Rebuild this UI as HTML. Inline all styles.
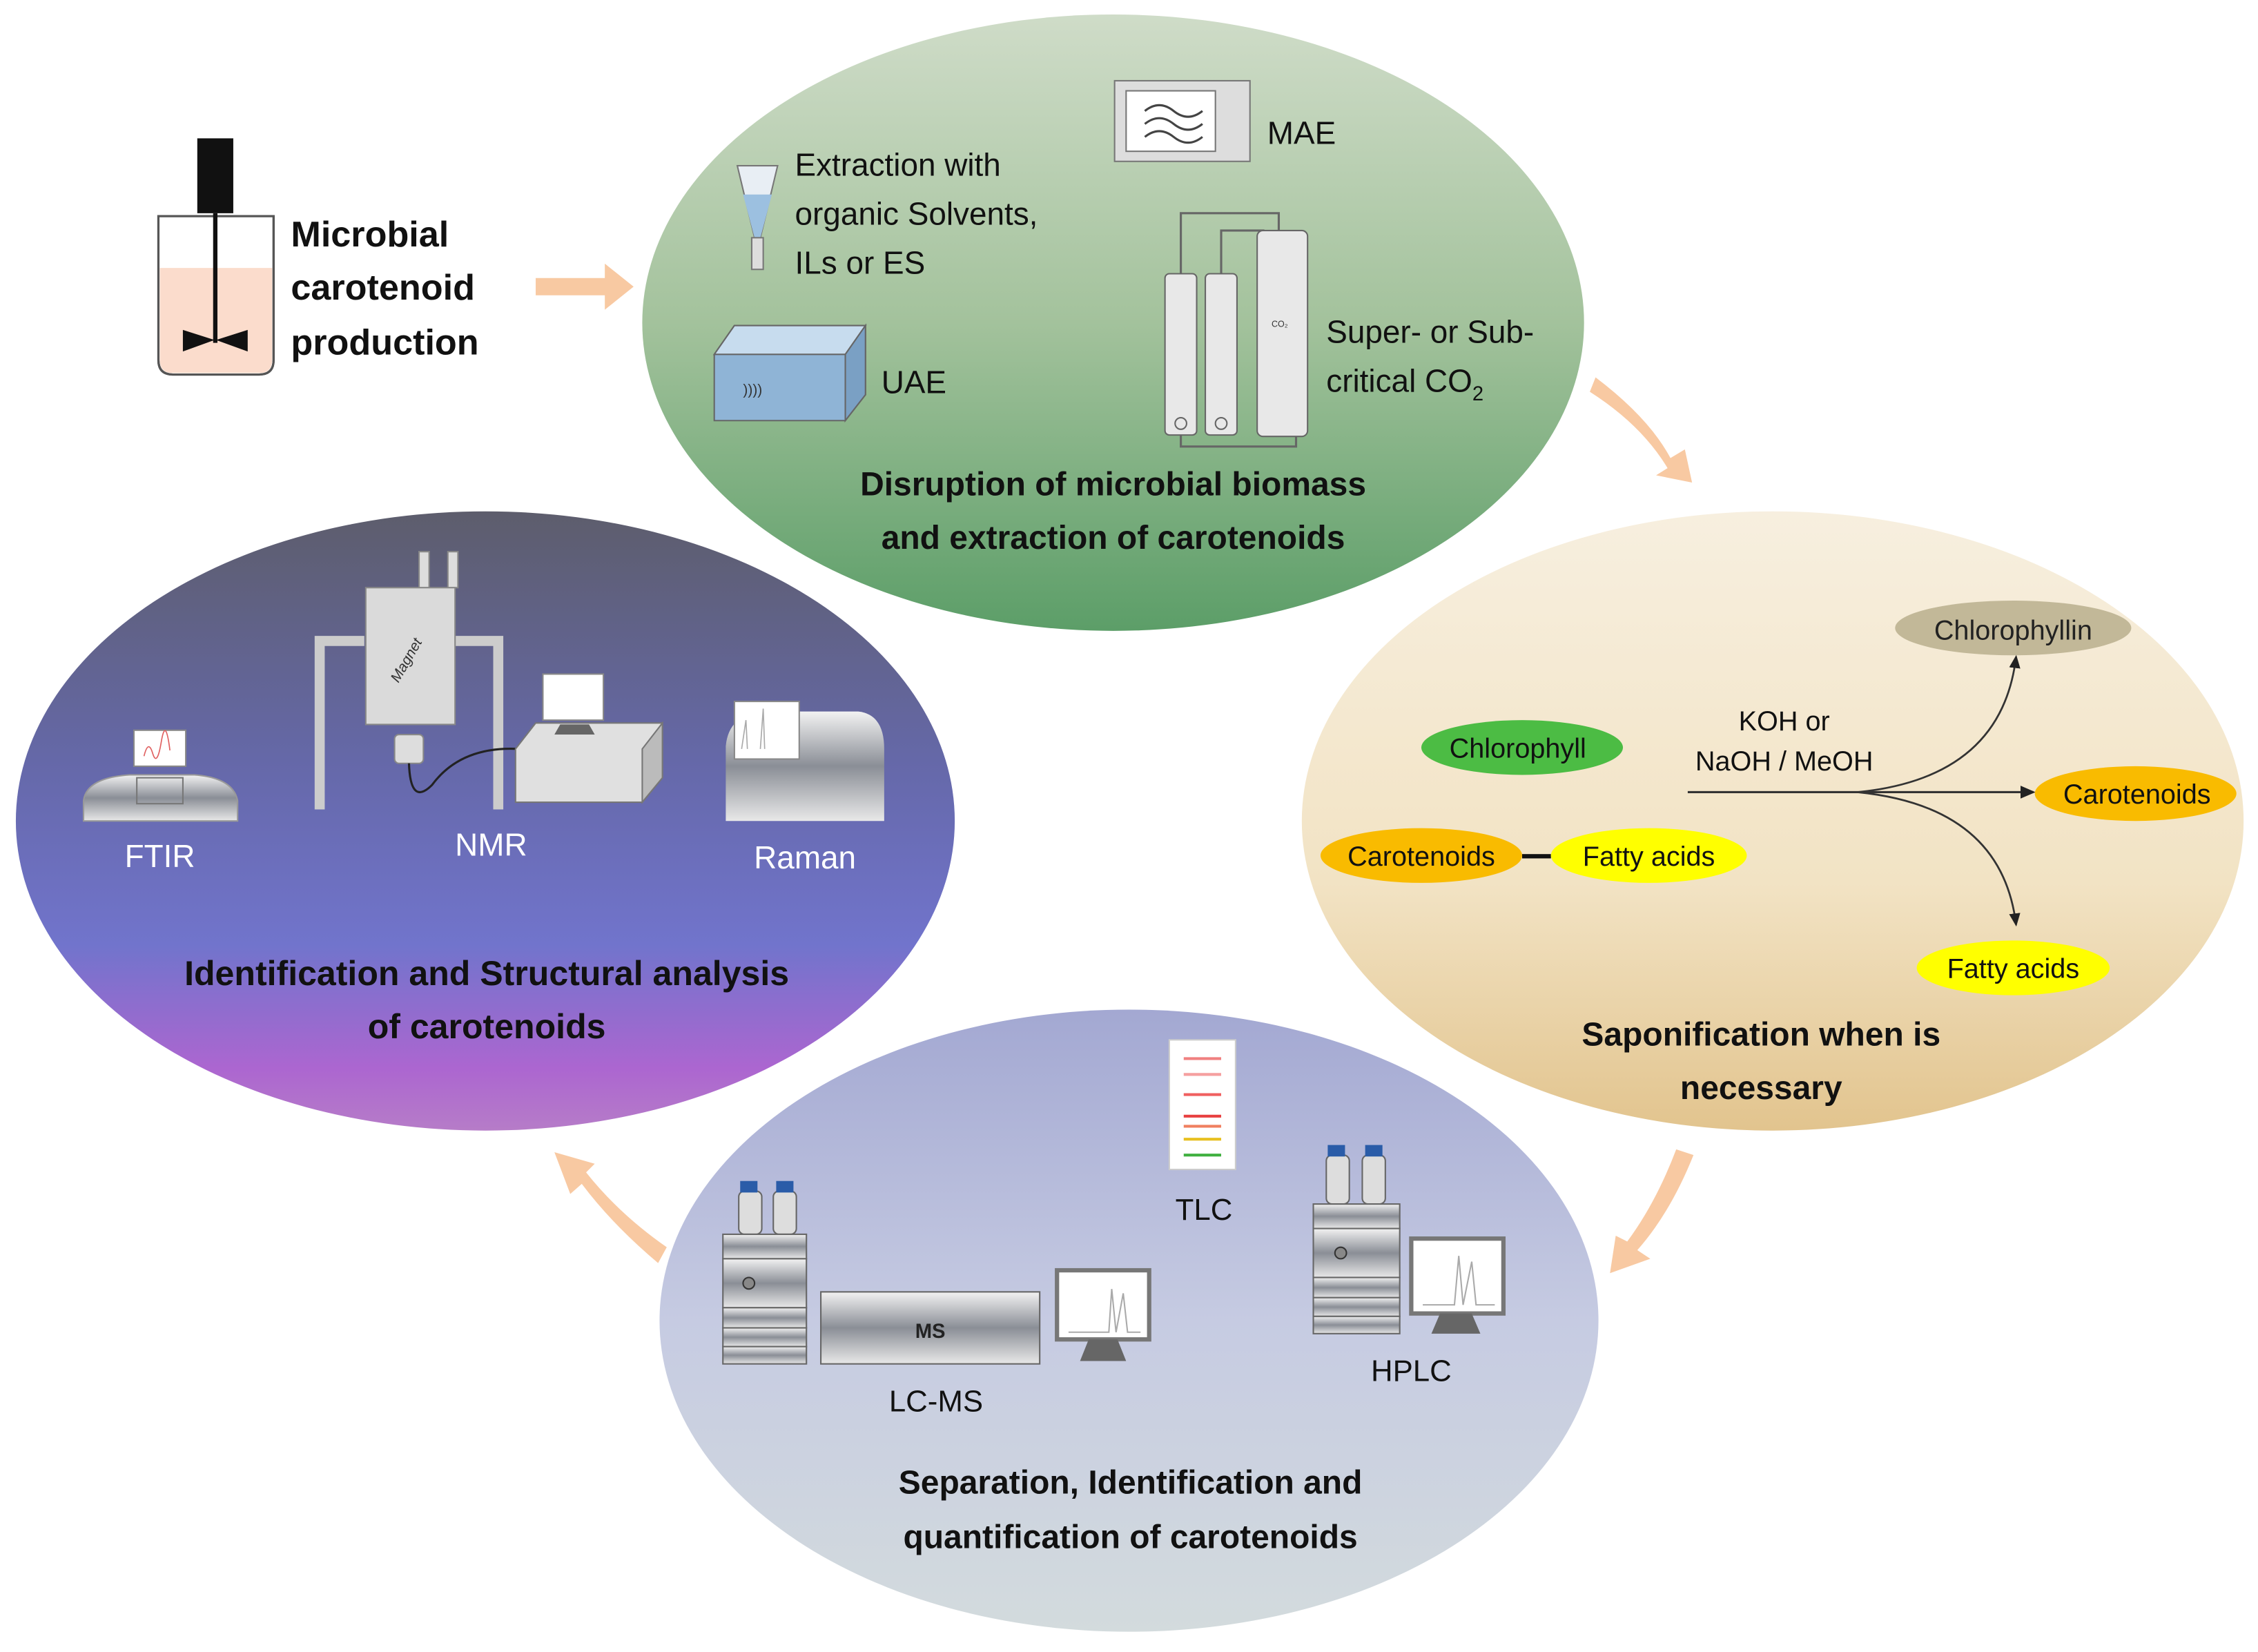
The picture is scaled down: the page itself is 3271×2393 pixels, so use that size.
<!DOCTYPE html>
<html><head><meta charset="utf-8"><style>
html,body{margin:0;padding:0;background:#fff}
svg{display:block}
text{font-family:"Liberation Sans",sans-serif}
</style></head><body>
<svg width="3271" height="2393" viewBox="0 0 1568 1147" xmlns="http://www.w3.org/2000/svg">
<defs>
<linearGradient id="g1" x1="0" y1="0" x2="0" y2="1"><stop offset="0" stop-color="#cfdcc8"/><stop offset="0.5" stop-color="#a3c29c"/><stop offset="1" stop-color="#5c9e68"/></linearGradient>
<linearGradient id="g2" x1="0" y1="0" x2="0" y2="1"><stop offset="0" stop-color="#f7efdf"/><stop offset="0.6" stop-color="#f2e3c4"/><stop offset="1" stop-color="#e2c48e"/></linearGradient>
<linearGradient id="g3" x1="0" y1="0" x2="0" y2="1"><stop offset="0" stop-color="#a3a8d2"/><stop offset="0.5" stop-color="#c6cbe2"/><stop offset="1" stop-color="#d3dbdd"/></linearGradient>
<linearGradient id="g4" x1="0" y1="0" x2="0" y2="1"><stop offset="0" stop-color="#5d5d6c"/><stop offset="0.4" stop-color="#6568a8"/><stop offset="0.7" stop-color="#7174cc"/><stop offset="0.9" stop-color="#ac66d0"/><stop offset="1" stop-color="#b67cc8"/></linearGradient>
<linearGradient id="gm" x1="0" y1="0" x2="0" y2="1"><stop offset="0" stop-color="#f2f2f2"/><stop offset="0.5" stop-color="#8a8e96"/><stop offset="1" stop-color="#e8e8e8"/></linearGradient>
<marker id="ah" markerWidth="8" markerHeight="8" refX="6" refY="4" orient="auto"><path d="M0,1 L7,4 L0,7z" fill="#222"/></marker>
</defs>
<rect width="1568" height="1147" fill="#fff"/>
<!-- ellipses -->
<ellipse cx="773" cy="224" rx="327" ry="214" fill="url(#g1)"/>
<ellipse cx="1231" cy="570" rx="327" ry="215" fill="url(#g2)"/>
<ellipse cx="337" cy="570" rx="326" ry="215" fill="url(#g4)"/>
<ellipse cx="784" cy="917" rx="326" ry="216" fill="url(#g3)"/>

<!-- peach arrows -->
<g fill="#f8c9a2">
<path d="M372,193 L420,193 L420,183 L440,199 L420,215 L420,205 L372,205z"/>
<path d="M1108,262 Q1145,290 1160,318 L1170,312 L1175,335 L1150,330 L1158,325 Q1140,295 1104,272z"/>
<path d="M1176,802 Q1160,842 1137,868 L1146,874 L1118,884 L1122,858 L1130,862 Q1150,835 1164,798z"/>
<path d="M457,877 Q425,850 404,822 L396,829 L385,800 L413,808 L407,814 Q430,843 463,866z"/>
</g>

<!-- bioreactor -->
<rect x="137" y="96" width="25" height="52" fill="#111"/>
<path d="M110,150 L190,150 L190,250 Q190,260 180,260 L120,260 Q110,260 110,250z" fill="#fff" stroke="#555" stroke-width="1.5"/>
<path d="M111,186 L189,186 L189,250 Q189,259 180,259 L120,259 Q111,259 111,250z" fill="#fbdccc"/>
<path d="M110,150 L190,150 L190,250 Q190,260 180,260 L120,260 Q110,260 110,250z" fill="none" stroke="#555" stroke-width="1.5"/>
<rect x="148" y="148" width="3" height="90" fill="#111"/>
<path d="M127,229 L149,236 L127,244z M172,229 L150,236 L172,244z" fill="#111"/>
<text font-weight="bold" font-size="25" fill="#111"><tspan x="202" y="171">Microbial</tspan><tspan x="202" y="208">carotenoid</tspan><tspan x="202" y="246">production</tspan></text>

<!-- green content -->
<path d="M512,115 L540,115 L528,165 L524,165z" fill="#e8eef4" stroke="#777"/>
<path d="M516,135 L536,135 L528,165 L524,165z" fill="#9cc0e0"/>
<rect x="522" y="165" width="8" height="22" fill="#ddd" stroke="#777"/>
<text font-size="22" fill="#111"><tspan x="552" y="122">Extraction with</tspan><tspan x="552" y="156">organic Solvents,</tspan><tspan x="552" y="190">ILs or ES</tspan></text>
<rect x="774" y="56" width="94" height="56" fill="#ddd" stroke="#777"/>
<rect x="782" y="63" width="62" height="42" fill="#fff" stroke="#777"/>
<path d="M795,77 q10,-8 20,0 t20,0 M795,86 q10,-8 20,0 t20,0 M795,95 q10,-8 20,0 t20,0" fill="none" stroke="#444" stroke-width="1.5"/>
<text x="880" y="100" font-size="22" fill="#111">MAE</text>
<path d="M496,246 L510,226 L601,226 L601,274 L587,292 L496,292z" fill="#8fb4d6" stroke="#666"/>
<path d="M496,246 L510,226 L601,226 L587,246z" fill="#c7dcee" stroke="#666"/>
<path d="M587,246 L601,226 L601,274 L587,292z" fill="#7aa0c4" stroke="#666"/>
<text x="516" y="274" font-size="10" fill="#333">))))</text>
<text x="612" y="273" font-size="22" fill="#111">UAE</text>
<path d="M820,190 L820,148 L888,148 L888,160 M848,190 L848,160 L878,160 M820,300 L820,310 L900,310 L900,300" fill="none" stroke="#666" stroke-width="1.5"/>
<rect x="809" y="190" width="22" height="112" rx="3" fill="#e8e8e8" stroke="#666"/>
<rect x="837" y="190" width="22" height="112" rx="3" fill="#e8e8e8" stroke="#666"/>
<rect x="873" y="160" width="35" height="143" rx="4" fill="#e8e8e8" stroke="#666"/>
<circle cx="820" cy="294" r="4" fill="none" stroke="#666"/><circle cx="848" cy="294" r="4" fill="none" stroke="#666"/>
<text x="883" y="227" font-size="6" fill="#333">CO₂</text>
<text font-size="22" fill="#111"><tspan x="921" y="238">Super- or Sub-</tspan><tspan x="921" y="272">critical CO</tspan><tspan font-size="14" dy="6">2</tspan></text>
<text font-weight="bold" font-size="23" fill="#111" text-anchor="middle"><tspan x="773" y="344">Disruption of microbial biomass</tspan><tspan x="773" y="381">and extraction of carotenoids</tspan></text>

<!-- saponification -->
<ellipse cx="1398" cy="436" rx="82" ry="19" fill="#c2b898"/>
<text x="1398" y="444" font-size="19" fill="#222" text-anchor="middle">Chlorophyllin</text>
<ellipse cx="1057" cy="519" rx="70" ry="19" fill="#4cbc44"/>
<text x="1054" y="526" font-size="19" fill="#111" text-anchor="middle">Chlorophyll</text>
<text font-size="19" fill="#111" text-anchor="middle"><tspan x="1239" y="507">KOH or</tspan><tspan x="1239" y="535">NaOH / MeOH</tspan></text>
<path d="M1172,550 L1412,550" stroke="#333" stroke-width="1.5" marker-end="url(#ah)"/>
<path d="M1290,550 Q1390,540 1400,456" fill="none" stroke="#333" stroke-width="1.3" marker-end="url(#ah)"/>
<path d="M1290,550 Q1390,560 1400,642" fill="none" stroke="#333" stroke-width="1.3" marker-end="url(#ah)"/>
<ellipse cx="1483" cy="551" rx="70" ry="19" fill="#f9bb00"/>
<text x="1484" y="558" font-size="19" fill="#111" text-anchor="middle">Carotenoids</text>
<ellipse cx="987" cy="594" rx="70" ry="19" fill="#f9bb00"/>
<text x="987" y="601" font-size="19" fill="#111" text-anchor="middle">Carotenoids</text>
<rect x="1057" y="593" width="20" height="3" fill="#111"/>
<ellipse cx="1145" cy="594" rx="68" ry="19" fill="#ffff00"/>
<text x="1145" y="601" font-size="19" fill="#111" text-anchor="middle">Fatty acids</text>
<ellipse cx="1398" cy="672" rx="67" ry="19" fill="#ffff00"/>
<text x="1398" y="679" font-size="19" fill="#111" text-anchor="middle">Fatty acids</text>
<text font-weight="bold" font-size="23" fill="#111" text-anchor="middle"><tspan x="1223" y="726">Saponification when is</tspan><tspan x="1223" y="763">necessary</tspan></text>

<!-- left purple -->
<path d="M58,570 L58,556 Q60,540 90,538 L135,538 Q162,540 165,556 L165,570z" fill="url(#gm)" stroke="#999"/>
<rect x="95" y="540" width="32" height="18" fill="none" stroke="#777"/>
<rect x="93" y="507" width="36" height="25" fill="#fff" stroke="#888"/>
<path d="M100,525 q3,-12 6,-2 t6,-8 t6,6" fill="none" stroke="#e06060" stroke-width="0.8"/>
<text x="111" y="602" font-size="22" fill="#fff" text-anchor="middle">FTIR</text>
<rect x="291" y="383" width="7" height="25" fill="#ddd" stroke="#888"/><rect x="311" y="383" width="7" height="25" fill="#ddd" stroke="#888"/>
<path d="M222,562 L222,445 L253,445 M315,445 L346,445 L346,562" fill="none" stroke="#ccc" stroke-width="7"/>
<rect x="254" y="408" width="62" height="95" fill="#dadada" stroke="#888"/>
<text x="285" y="460" font-size="10" font-style="italic" fill="#333" transform="rotate(-60 285 460)" text-anchor="middle">Magnet</text>
<rect x="274" y="510" width="20" height="20" rx="3" fill="#ddd" stroke="#888"/>
<path d="M284,530 Q285,560 300,545 Q320,518 360,520" fill="none" stroke="#222" stroke-width="1.5"/>
<path d="M358,520 L372,502 L460,502 L460,540 L446,557 L358,557z" fill="#e0e0e0" stroke="#777"/>
<path d="M446,520 L460,502 L460,540 L446,557z" fill="#bbb" stroke="#777"/>
<rect x="377" y="468" width="42" height="32" fill="#fff" stroke="#888"/>
<path d="M389,503 L409,503 L413,510 L385,510z" fill="#666"/>
<text x="341" y="594" font-size="22" fill="#fff" text-anchor="middle">NMR</text>
<path d="M504,570 L504,518 Q506,496 530,494 L596,494 Q614,496 614,520 L614,570z" fill="url(#gm)"/>
<rect x="510" y="487" width="45" height="40" fill="#fff" stroke="#888"/>
<path d="M515,520 L518,500 L519,520 M528,520 L530,492 L531,520" stroke="#aaa" fill="none" stroke-width="0.8"/>
<text x="559" y="603" font-size="22" fill="#fff" text-anchor="middle">Raman</text>
<text font-weight="bold" font-size="24" fill="#111" text-anchor="middle"><tspan x="338" y="684">Identification and Structural analysis</tspan><tspan x="338" y="721">of carotenoids</tspan></text>

<!-- bottom lavender -->
<rect x="812" y="722" width="46" height="90" fill="#fff" stroke="#ccc"/>
<g stroke-width="2"><path d="M822,735h26" stroke="#f08080"/><path d="M822,746h26" stroke="#f5a0a0"/><path d="M822,760h26" stroke="#f06060"/><path d="M822,775h26" stroke="#e84040"/><path d="M822,782h26" stroke="#f08060"/><path d="M822,791h26" stroke="#e8c020"/><path d="M822,802h26" stroke="#40b040"/></g>
<text x="836" y="847" font-size="21" fill="#111" text-anchor="middle">TLC</text>
<!-- LC-MS stack -->
<g stroke="#666" fill="url(#gm)">
<rect x="513" y="827" width="16" height="30" rx="4" fill="#ddd"/><rect x="537" y="827" width="16" height="30" rx="4" fill="#ddd"/>
<rect x="502" y="857" width="58" height="17"/><rect x="502" y="874" width="58" height="34"/><rect x="502" y="908" width="58" height="14"/><rect x="502" y="922" width="58" height="13"/><rect x="502" y="935" width="58" height="12"/>
<rect x="570" y="897" width="152" height="50"/>
</g>
<rect x="514" y="820" width="12" height="8" fill="#2a5ca8"/><rect x="539" y="820" width="12" height="8" fill="#2a5ca8"/>
<circle cx="520" cy="891" r="4" fill="#888" stroke="#333"/>
<text x="646" y="929" font-size="14" font-weight="bold" fill="#222" text-anchor="middle">MS</text>
<rect x="734" y="882" width="64" height="48" fill="#fff" stroke="#777" stroke-width="3"/>
<path d="M742,925 L770,925 L772,895 L775,925 L780,898 L783,925 L792,925" fill="none" stroke="#aaa"/>
<path d="M756,930 L776,930 L782,945 L750,945z" fill="#666"/>
<text x="650" y="980" font-size="21" fill="#111" text-anchor="middle">LC-MS</text>
<!-- HPLC -->
<g stroke="#666" fill="url(#gm)">
<rect x="921" y="802" width="16" height="34" rx="4" fill="#ddd"/><rect x="946" y="802" width="16" height="34" rx="4" fill="#ddd"/>
<rect x="912" y="836" width="60" height="17"/><rect x="912" y="853" width="60" height="34"/><rect x="912" y="887" width="60" height="14"/><rect x="912" y="901" width="60" height="13"/><rect x="912" y="914" width="60" height="12"/>
</g>
<rect x="922" y="795" width="12" height="8" fill="#2a5ca8"/><rect x="948" y="795" width="12" height="8" fill="#2a5ca8"/>
<circle cx="931" cy="870" r="4" fill="#888" stroke="#333"/>
<rect x="980" y="860" width="64" height="52" fill="#fff" stroke="#777" stroke-width="3"/>
<path d="M988,906 L1010,906 L1013,872 L1016,906 L1022,876 L1025,906 L1038,906" fill="none" stroke="#aaa"/>
<path d="M1000,912 L1022,912 L1028,926 L994,926z" fill="#666"/>
<text x="980" y="959" font-size="21" fill="#111" text-anchor="middle">HPLC</text>
<text font-weight="bold" font-size="23" fill="#111" text-anchor="middle"><tspan x="785" y="1037">Separation, Identification and</tspan><tspan x="785" y="1075">quantification of carotenoids</tspan></text>
</svg>
</body></html>
